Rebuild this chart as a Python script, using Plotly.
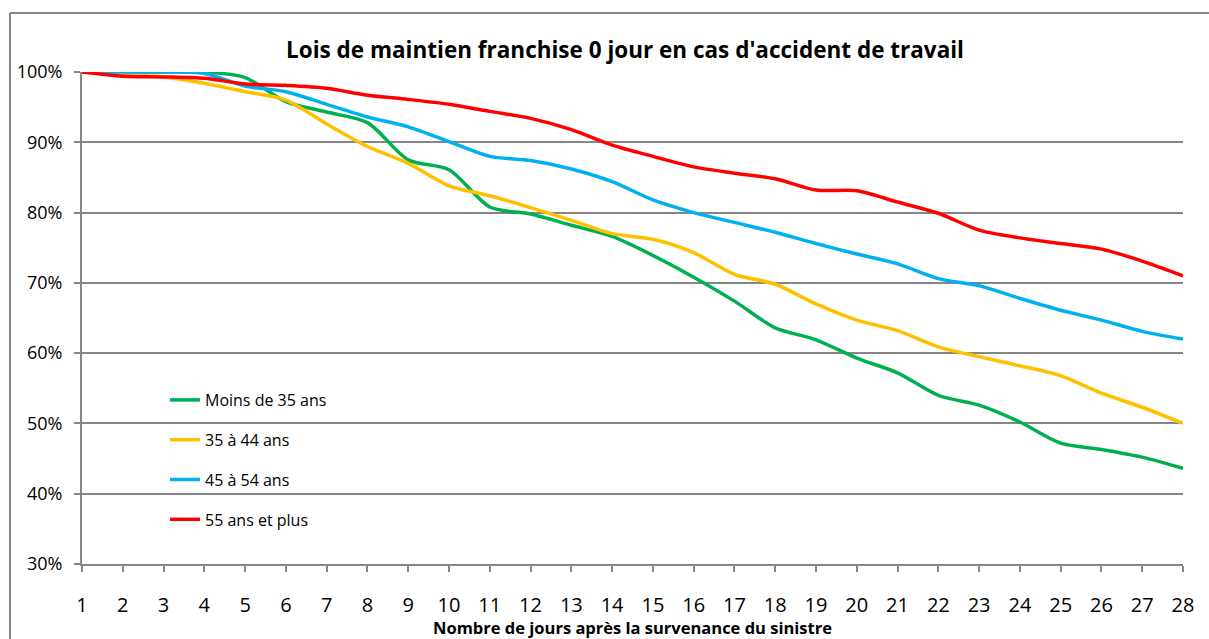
import plotly.graph_objects as go

days = list(range(1, 29))
series_names = ["Moins de 35 ans", "35 à 44 ans", "45 à 54 ans", "55 ans et plus"]
colors = ["#00B050", "#FFC000", "#00B0F0", "#FF0000"]

moins_35 = [100, 100, 100, 100, 99.2, 95.8, 94.3, 92.8, 87.5, 86.1,
            80.8, 79.8, 78.2, 76.6, 73.9, 70.8, 67.4, 63.6, 61.9, 59.3,
            57.2, 54.0, 52.6, 50.2, 47.2, 46.3, 45.2, 43.6]
de_35_44 = [100, 99.6, 99.3, 98.4, 97.2, 96.0, 92.6, 89.4, 87.0, 83.8,
            82.4, 80.7, 78.9, 77.0, 76.2, 74.3, 71.2, 69.8, 67.0, 64.7,
            63.2, 60.9, 59.5, 58.2, 56.8, 54.3, 52.3, 50.0]
de_45_54 = [100, 100, 100, 99.8, 98.0, 97.2, 95.4, 93.6, 92.2, 90.1,
            88.0, 87.4, 86.2, 84.4, 81.8, 80.0, 78.6, 77.2, 75.6, 74.1,
            72.7, 70.6, 69.6, 67.8, 66.1, 64.7, 63.1, 62.0]
plus_55 = [100, 99.4, 99.3, 99.1, 98.3, 98.1, 97.7, 96.7, 96.1, 95.4,
           94.4, 93.4, 91.8, 89.6, 88.0, 86.5, 85.6, 84.8, 83.2, 83.1,
           81.5, 79.9, 77.5, 76.4, 75.6, 74.8, 73.1, 71.0]
all_values = [moins_35, de_35_44, de_45_54, plus_55]

y_ticks = [30, 40, 50, 60, 70, 80, 90, 100]
y_tick_labels = [f"{v}%" for v in y_ticks]

FONT = "'Open Sans', Lato, sans-serif"
GRID = "#868686"

W, H = 1209, 639
L, T, R, B = 82, 72, 26, 75
PW, PH = W - L - R, H - T - B

fig = go.Figure()
for i, (name, vals, col) in enumerate(zip(series_names, all_values, colors)):
    fig.add_trace(go.Scatter(
        x=days, y=vals, name=name, mode="lines",
        line=dict(color=col, width=3.5, shape="spline", smoothing=0.8),
        legendgroup=f"g{i}", cliponaxis=False,
    ))

fig.update_layout(
    width=W, height=H,
    margin=dict(l=L, r=R, t=T, b=B, autoexpand=False),
    paper_bgcolor="white", plot_bgcolor="white",
    font=dict(family=FONT, color="black"),
    title=dict(text="<b>Lois de maintien franchise 0 jour en cas d'accident de travail</b>",
               x=625 / W, xanchor="center", y=1 - 50 / H, yanchor="middle",
               font=dict(size=22.5, family=FONT, color="black")),
    showlegend=True,
    legend=dict(x=(165 - L) / PW, y=(T + PH - 383) / PH, xanchor="left", yanchor="top",
                bgcolor="rgba(0,0,0,0)", font=dict(size=16, family=FONT),
                tracegroupgap=16),
    xaxis=dict(range=[1, 28], tickmode="array", tickvals=days, ticktext=[str(d) for d in days],
               showgrid=False, showline=True, linecolor=GRID, linewidth=2,
               ticks="outside", ticklen=6, tickcolor=GRID, tickwidth=2,
               ticklabelstandoff=16, automargin=False,
               tickfont=dict(size=20, family=FONT, color="black"),
               title=dict(text="<b>Nombre de jours après la survenance du sinistre</b>",
                          font=dict(size=16.5, family=FONT, color="black"), standoff=12),
               zeroline=False),
    yaxis=dict(range=[30, 100], tickmode="array", tickvals=y_ticks, ticktext=y_tick_labels,
               showgrid=True, gridcolor=GRID, gridwidth=2,
               showline=True, linecolor=GRID, linewidth=2,
               ticks="outside", ticklen=6, tickcolor=GRID, tickwidth=2,
               ticklabelstandoff=8, automargin=False,
               tickfont=dict(size=18, family=FONT, color="black"),
               zeroline=False),
)

# outer chart border (top and left edges visible in the frame)
fig.add_shape(type="line", xref="paper", yref="paper",
              x0=(10 - L) / PW, x1=(W + 20 - L) / PW,
              y0=(T + PH - 13) / PH, y1=(T + PH - 13) / PH,
              line=dict(color=GRID, width=2), layer="below")
fig.add_shape(type="line", xref="paper", yref="paper",
              x0=(10 - L) / PW, x1=(10 - L) / PW,
              y0=(T + PH - H - 20) / PH, y1=(T + PH - 13) / PH,
              line=dict(color=GRID, width=2), layer="below")

fig.write_html("out.html", config={"displayModeBar": False},
               post_script="document.body.style.margin='0';document.body.style.overflow='hidden';")
